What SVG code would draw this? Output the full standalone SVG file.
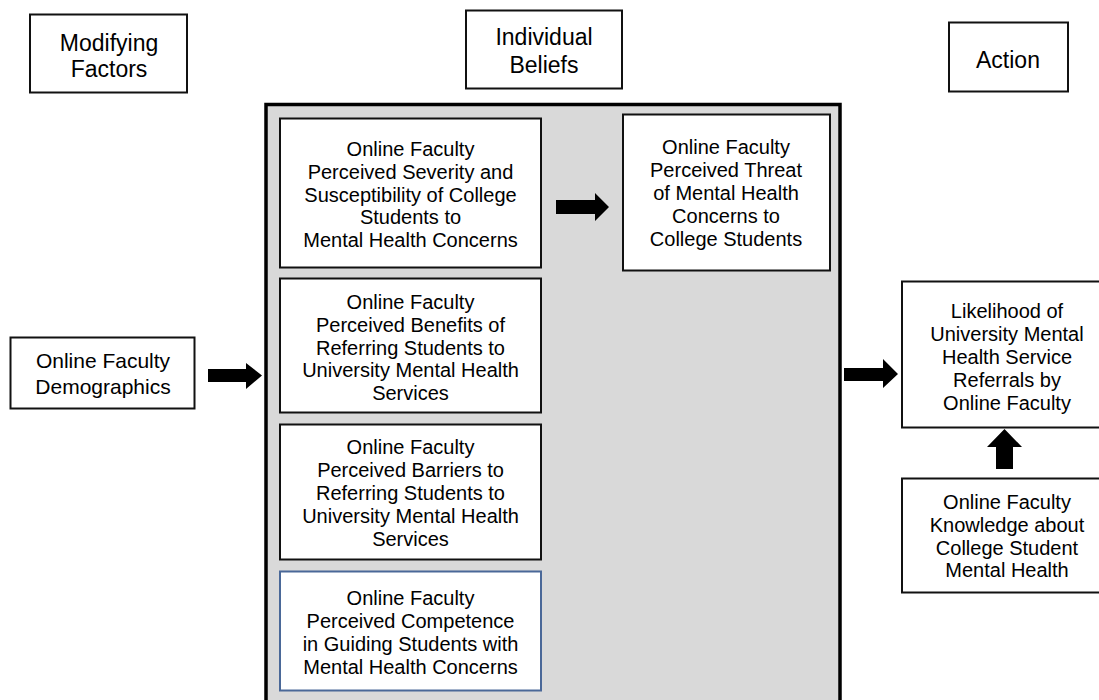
<svg xmlns="http://www.w3.org/2000/svg" width="1099" height="700" viewBox="0 0 1099 700">
<style>
.box{fill:#fff;stroke:#111;stroke-width:2}
.blue{fill:#fff;stroke:#4a6898;stroke-width:2}
.cont{fill:#d9d9d9;stroke:#000;stroke-width:3.5}
.t{font-family:"Liberation Sans",Arial,sans-serif;font-size:20px;fill:#000;text-anchor:middle}
.h{font-family:"Liberation Sans",Arial,sans-serif;font-size:23px;fill:#000;text-anchor:middle}
.d{font-family:"Liberation Sans",Arial,sans-serif;font-size:21px;fill:#000;text-anchor:middle}
.arr{fill:#000}
</style>
<rect width="1099" height="700" fill="#fff"/>
<g id="container"><rect class="cont" x="266" y="104.5" width="574" height="620"/></g>
<g id="modifying-factors"><rect class="box" x="30" y="14.5" width="157" height="78"/>
<text class="h" x="109" y="51">Modifying</text><text class="h" x="109" y="77">Factors</text></g>
<g id="individual-beliefs"><rect class="box" x="466" y="10.5" width="156" height="78"/>
<text class="h" x="544" y="45">Individual</text><text class="h" x="544" y="73">Beliefs</text></g>
<g id="action"><rect class="box" x="949" y="22.5" width="119" height="69"/>
<text class="h" x="1008" y="68">Action</text></g>
<g id="demographics"><rect class="box" x="10.5" y="337.5" width="184" height="71"/>
<text class="d" x="103" y="367.5">Online Faculty</text><text class="d" x="103" y="393.5">Demographics</text></g>
<g id="severity"><rect class="box" x="280" y="118.5" width="261" height="149"/>
<text class="t" x="410.5" y="156">Online Faculty</text>
<text class="t" x="410.5" y="178.75">Perceived Severity and</text>
<text class="t" x="410.5" y="201.5">Susceptibility of College</text>
<text class="t" x="410.5" y="224.25">Students to</text>
<text class="t" x="410.5" y="247">Mental Health Concerns</text></g>
<g id="benefits"><rect class="box" x="280" y="278.5" width="261" height="134"/>
<text class="t" x="410.5" y="309">Online Faculty</text>
<text class="t" x="410.5" y="331.75">Perceived Benefits of</text>
<text class="t" x="410.5" y="354.5">Referring Students to</text>
<text class="t" x="410.5" y="377.25">University Mental Health</text>
<text class="t" x="410.5" y="400">Services</text></g>
<g id="barriers"><rect class="box" x="280" y="424.5" width="261" height="135"/>
<text class="t" x="410.5" y="454">Online Faculty</text>
<text class="t" x="410.5" y="477">Perceived Barriers to</text>
<text class="t" x="410.5" y="500">Referring Students to</text>
<text class="t" x="410.5" y="523">University Mental Health</text>
<text class="t" x="410.5" y="546">Services</text></g>
<g id="competence"><rect class="blue" x="280" y="571.5" width="261" height="119"/>
<text class="t" x="410.5" y="605">Online Faculty</text>
<text class="t" x="410.5" y="628">Perceived Competence</text>
<text class="t" x="410.5" y="651">in Guiding Students with</text>
<text class="t" x="410.5" y="674">Mental Health Concerns</text></g>
<g id="threat"><rect class="box" x="623" y="114.5" width="207" height="156"/>
<text class="t" x="726" y="154">Online Faculty</text>
<text class="t" x="726" y="177">Perceived Threat</text>
<text class="t" x="726" y="200">of Mental Health</text>
<text class="t" x="726" y="223">Concerns to</text>
<text class="t" x="726" y="246">College Students</text></g>
<g id="likelihood"><rect class="box" x="902" y="281.5" width="215" height="146"/>
<text class="t" x="1007" y="318">Likelihood of</text>
<text class="t" x="1007" y="341">University Mental</text>
<text class="t" x="1007" y="364">Health Service</text>
<text class="t" x="1007" y="387">Referrals by</text>
<text class="t" x="1007" y="410">Online Faculty</text></g>
<g id="knowledge"><rect class="box" x="902" y="478.5" width="215" height="114"/>
<text class="t" x="1007" y="509">Online Faculty</text>
<text class="t" x="1007" y="532">Knowledge about</text>
<text class="t" x="1007" y="555">College Student</text>
<text class="t" x="1007" y="577">Mental Health</text></g>
<g id="connectors">
<polygon class="arr" points="208,369 246,369 246,363 262,375.5 246,389 246,382 208,382"/>
<polygon class="arr" points="556,200 595,200 595,193 609,207 595,221 595,214 556,214"/>
<polygon class="arr" points="844,368 883,368 883,359 898,374 883,388 883,381 844,381"/>
<polygon class="arr" points="996,469 996,447 987,447 1004.5,429 1022,447 1013,447 1013,469"/>
</g>
</svg>
